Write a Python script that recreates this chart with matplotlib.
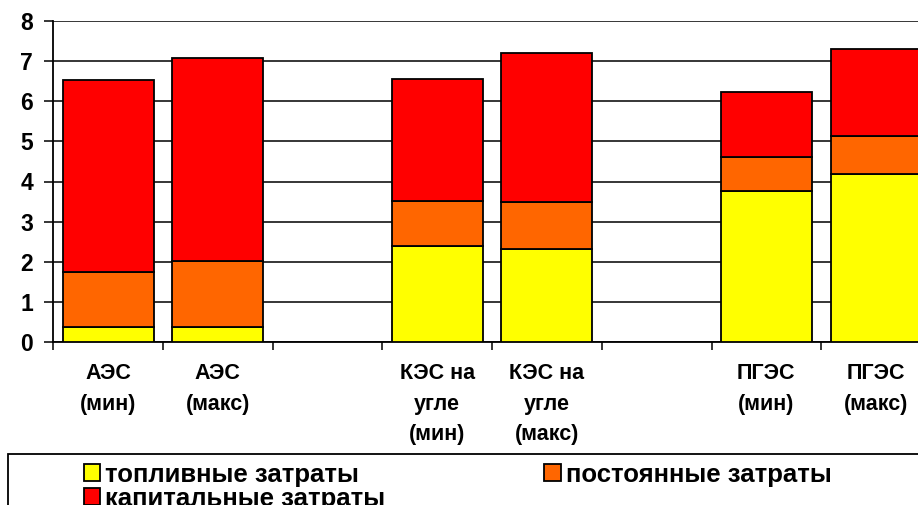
import matplotlib
matplotlib.use("Agg")
import matplotlib.pyplot as plt
from matplotlib.patches import Rectangle
import numpy as np

plt.rcParams['font.family'] = ['Liberation Sans', 'DejaVu Sans']
plt.rcParams['font.weight'] = 'bold'

categories = ["АЭС\n(мин)", "АЭС\n(макс)", "", "КЭС на\nугле\n(мин)", "КЭС на\nугле\n(макс)", "",
              "ПГЭС\n(мин)", "ПГЭС\n(макс)"]
fuel = [0.39, 0.39, 0, 2.40, 2.31, 0, 3.76, 4.19]
fixed = [1.37, 1.63, 0, 1.11, 1.17, 0, 0.86, 0.94]
capital = [4.76, 5.04, 0, 3.04, 3.71, 0, 1.61, 2.17]
series_names = ["топливные затраты", "постоянные затраты", "капитальные затраты"]
colors = ["#FFFF00", "#FF6600", "#FF0000"]
yticks = [0, 1, 2, 3, 4, 5, 6, 7, 8]

fig = plt.figure(figsize=(9.18, 5.05), dpi=100)
ax = fig.add_axes([53.3 / 918, 1 - 342.3 / 505, 877.6 / 918, (342.3 - 20.7) / 505])

x = np.arange(len(categories))
mask = [i for i in range(len(categories)) if categories[i] != ""]
xm = x[mask]
f = np.array(fuel)[mask]
p = np.array(fixed)[mask]
c = np.array(capital)[mask]
w = 0.83
b1 = ax.bar(xm, f, w, color=colors[0], edgecolor='black', linewidth=1.3, zorder=3)
b2 = ax.bar(xm, p, w, bottom=f, color=colors[1], edgecolor='black', linewidth=1.3, zorder=3)
b3 = ax.bar(xm, c, w, bottom=f + p, color=colors[2], edgecolor='black', linewidth=1.3, zorder=3)

ax.set_xlim(-0.5, len(categories) - 0.5)
ax.set_ylim(0, 8)
ax.set_yticks(yticks)
ax.set_yticklabels([str(v) for v in yticks])
ax.yaxis.grid(True, color='black', linewidth=1.1)
ax.set_axisbelow(True)

ax.set_xticks(x)
ax.set_xticklabels(categories, fontsize=15.5, fontweight='bold', linespacing=1.6)
ax.set_xticks(np.arange(len(categories) + 1) - 0.5, minor=True)
ax.tick_params(axis='x', which='major', length=0, pad=15)
ax.tick_params(axis='x', which='minor', length=6, width=1.1, direction='out', color='black')
ax.tick_params(axis='y', length=6.5, width=1.1, direction='out', pad=8, labelsize=16.5)
for lab in ax.get_yticklabels():
    lab.set_fontweight('bold')

for s in ['top', 'right']:
    ax.spines[s].set_visible(False)
ax.spines['left'].set_linewidth(1.3)
ax.spines['bottom'].set_linewidth(1.3)

# legend frame (extends beyond figure edges, as in the reference)
fig.patches.append(Rectangle((8 / 918, -0.1), 1.1, 0.1 + (505 - 454) / 505,
                             transform=fig.transFigure, fill=False,
                             edgecolor='black', linewidth=1.3, clip_on=False))

handles = [b1, b3, b2]
labels = [series_names[0], series_names[2], series_names[1]]
leg = fig.legend(handles, labels, loc='upper left',
                 bbox_to_anchor=(71 / 918, 1 - 450 / 505),
                 ncol=2, frameon=False, borderpad=0, labelspacing=0.0,
                 handlelength=0.64, handleheight=0.64, handletextpad=0.2,
                 columnspacing=6.17, prop={'size': 18.5, 'weight': 'bold'})
for h in leg.legend_handles:
    h.set_linewidth(1.3)

fig.savefig("out.png", dpi=100)
